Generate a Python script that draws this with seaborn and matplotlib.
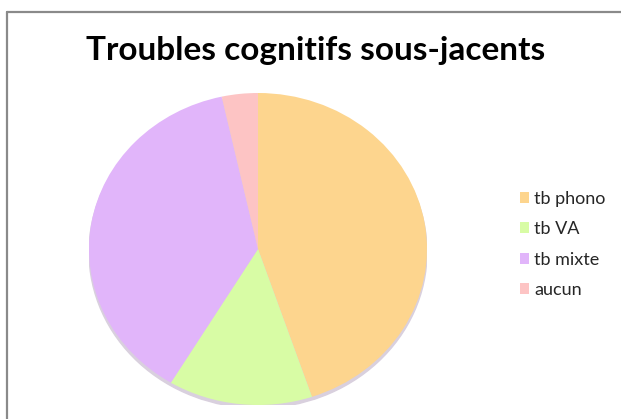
import matplotlib
matplotlib.use("Agg")
import matplotlib.pyplot as plt
import seaborn as sns
from matplotlib.patches import Ellipse
from matplotlib.lines import Line2D

labels = ["tb phono", "tb VA", "tb mixte", "aucun"]
counts = [13, 4, 11, 1]
colors = ["#FDD58E", "#D8FCA5", "#E1B5FA", "#FDC4C4"]

sns.set_theme(style="white")
plt.rcParams["font.family"] = ["Lato", "DejaVu Sans"]

W, H = 621, 419
fig = plt.figure(figsize=(W / 100, H / 100), dpi=100)
fig.patch.set_facecolor("white")

# frame lines (top and left border of the chart area)
fig.add_artist(Line2D([7 / W, 1], [1 - 12 / H, 1 - 12 / H], color="#8a8a8a", lw=1.6))
fig.add_artist(Line2D([7 / W, 7 / W], [0, 1 - 12 / H], color="#8a8a8a", lw=1.6))

cx, cy, rx, ry = 258, 249, 169, 156
ax = fig.add_axes([(cx - rx) / W, (H - cy - ry) / H, 2 * rx / W, 2 * ry / H])
ax.add_patch(Ellipse((0, -0.02), 2.0, 2.0, color="#d9d0de", zorder=0))
pal = sns.color_palette(colors)
wedges, _ = ax.pie(counts, colors=pal, startangle=90, counterclock=False,
                   radius=1.0, wedgeprops=dict(linewidth=0))
ax.set_aspect("auto")
ax.set_xlim(-1, 1)
ax.set_ylim(-1, 1)
ax.axis("off")

fig.text(316 / W, 1 - 60 / H, "Troubles cognitifs sous-jacents", ha="center",
         va="baseline", fontsize=24, fontweight="bold", color="black")

fig.legend(wedges, labels, loc="upper left", bbox_to_anchor=(520 / W, 1 - 191 / H),
           frameon=False, fontsize=13, handlelength=0.5, handleheight=0.55,
           handletextpad=0.3, labelspacing=0.79, borderpad=0, borderaxespad=0)

fig.savefig("out.png", dpi=100)
